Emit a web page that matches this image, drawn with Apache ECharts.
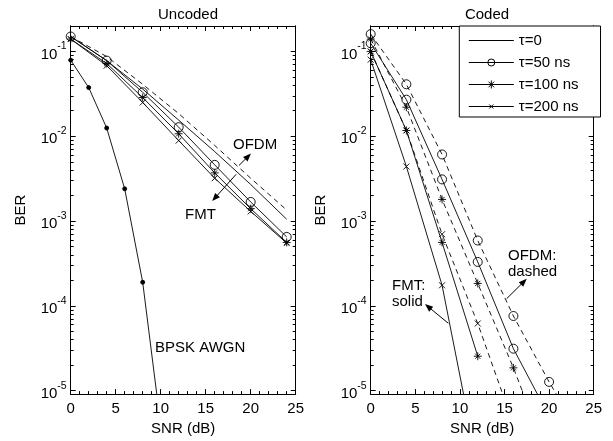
<!DOCTYPE html>
<html><head><meta charset="utf-8">
<script src="https://cdn.jsdelivr.net/npm/echarts@6/dist/echarts.min.js"></script>
<style>html,body{margin:0;padding:0;background:#fff}#c{width:613px;height:441px}</style>
</head><body><div id="c"></div>
<script>
// ---- data ----
const snrU = [0, 4, 8, 12, 16, 20, 24];
const bpskSnr = [0, 2, 4, 6, 8, 10];
const bpskBer = [0.079, 0.0375, 0.0125, 0.0024, 1.9e-4, 3.9e-6];
const uncFmtT0   = [0.15, 0.078, 0.036, 0.0155, 0.0066, 0.0027, 0.00105];
const uncFmtT50  = [0.15, 0.078, 0.033, 0.0128, 0.0046, 0.00168, 0.00065];
const uncFmtT100 = [0.14, 0.072, 0.0286, 0.0107, 0.0037, 0.0014, 0.00056];
const uncFmtT200 = [0.14, 0.068, 0.025, 0.0089, 0.0032, 0.0013, 0.00055];
const uncOfdm    = [0.15, 0.087, 0.041, 0.0185, 0.0078, 0.0032, 0.00135];

const snrC = [0, 4, 8, 12, 16, 20, 24];
const codFmtT50   = [0.125, 0.027, 0.0031, 3.3e-4, 3.13e-5, 5e-6];
const codOfdmT50  = [0.16, 0.041, 0.0061, 5.9e-4, 7.6e-5, 1.27e-5, 2.5e-6];
const codFmtT100  = [0.1, 0.0117, 5.6e-4, 2.55e-5];
const codOfdmT100 = [0.14, 0.022, 0.0018, 1.84e-4, 1.86e-5, 1.5e-6];
const codFmtT200  = [0.08, 0.0044, 1.75e-4, 1.3e-6];
const codOfdmT200 = [0.1, 0.0117, 7e-4, 6.2e-5, 4e-6];

const xTicks = [0, 5, 10, 15, 20, 25];
const yExp = [-5, -4, -3, -2, -1];
const legendNames = ['\u03c4=0', '\u03c4=50 ns', '\u03c4=100 ns', '\u03c4=200 ns'];

// annotation arrows in data coordinates: [grid, fromX, fromLogBer, toX, toLogBer]
const arrowDefs = [
  [0, 18.7, -2.344, 20.03, -2.204],
  [0, 18.38, -2.449, 15.72, -2.764],
  [1, 15.25, -3.914, 17.49, -3.681],
  [1, 8.70, -4.205, 6.09, -3.979]
];

// ---- helpers ----
const FONT = '"Liberation Sans", Arial, sans-serif';
const FS = 15;
const YMIN = -5.04, YMAX = -0.70;
const lg = v => Math.log10(v);
const pts = (xs, ys) => ys.map((y, i) => [xs[i], lg(y)]);
const minorVals = [];
for (let m = -6; m <= 0; m++) for (let k = 2; k <= 9; k++) {
  const v = Math.log10(k) + m; if (v > YMIN && v < YMAX) minorVals.push(v);
}
const STAR = 'path://M5,0L5,10M0,5L10,5M1.8,1.8L8.2,8.2M1.8,8.2L8.2,1.8';
const XMK = 'path://M0,0L10,10M0,10L10,0';

function xAxes(g) {
  const base = {gridIndex: g, type: 'value', min: 0, max: 25, interval: 5,
    axisLine: {show: true, onZero: false, lineStyle: {color: '#000', width: 1}},
    axisTick: {show: true, inside: true, length: 5, lineStyle: {color: '#000', width: 1}},
    minorTick: {show: true, splitNumber: 5, length: 3, lineStyle: {color: '#000', width: 1}},
    splitLine: {show: false}, minorSplitLine: {show: false}};
  return [
    Object.assign({}, base, {position: 'bottom', name: 'SNR (dB)', nameLocation: 'middle', nameGap: 23,
      nameTextStyle: {color: '#000', fontSize: FS, fontFamily: FONT},
      axisLabel: {color: '#000', fontSize: FS, fontFamily: FONT, margin: 7, customValues: xTicks}}),
    Object.assign({}, base, {position: 'top', axisLabel: {show: false}})
  ];
}
function yAxes(g) {
  const base = {gridIndex: g, type: 'value', min: YMIN, max: YMAX,
    axisLine: {show: true, onZero: false, lineStyle: {color: '#000', width: 1}},
    splitLine: {show: false}};
  const lab = {color: '#000', fontSize: FS, fontFamily: FONT, margin: 4, customValues: yExp,
    formatter: v => '{b|10}{s|' + Math.round(v) + '}',
    rich: {b: {fontSize: FS, fontFamily: FONT, color: '#000', verticalAlign: 'bottom'},
           s: {fontSize: 10.5, fontFamily: FONT, color: '#000', verticalAlign: 'top', padding: [0, 0, 10, 0]}}};
  return [
    Object.assign({}, base, {position: 'left', axisLabel: lab,
      axisTick: {show: true, inside: true, length: 5, customValues: yExp, lineStyle: {color: '#000'}},
      name: 'BER', nameLocation: 'middle', nameGap: 42, nameRotate: 90,
      nameTextStyle: {color: '#000', fontSize: FS, fontFamily: FONT}}),
    Object.assign({}, base, {position: 'left', axisLabel: {show: false},
      axisTick: {show: true, inside: true, length: 3, customValues: minorVals, lineStyle: {color: '#000'}}}),
    Object.assign({}, base, {position: 'right', axisLabel: {show: false},
      axisTick: {show: true, inside: true, length: 5, customValues: yExp, lineStyle: {color: '#000'}}}),
    Object.assign({}, base, {position: 'right', axisLabel: {show: false},
      axisTick: {show: true, inside: true, length: 3, customValues: minorVals, lineStyle: {color: '#000'}}})
  ];
}
function line(name, g, xs, ys, opts) {
  const o = Object.assign({dashed: false, symbol: 'none', size: 8}, opts || {});
  return {name: name, type: 'line', xAxisIndex: g * 2, yAxisIndex: g * 4,
    data: pts(xs, ys), clip: true, animation: false, z: 3,
    symbol: o.symbol, symbolSize: o.size, showSymbol: o.symbol !== 'none',
    lineStyle: {color: '#000', width: 0.9, type: o.dashed ? [5, 4] : 'solid'},
    itemStyle: {color: o.fill || 'rgba(0,0,0,0)', borderColor: '#000', borderWidth: 0.9},
    emphasis: {disabled: true}};
}

const series = [
  line('BPSK AWGN', 0, bpskSnr, bpskBer, {symbol: 'circle', size: 4, fill: '#000'}),
  line('u-ofdm', 0, snrU, uncOfdm, {dashed: true}),
  line(legendNames[0], 0, snrU, uncFmtT0),
  line('u50', 0, snrU, uncFmtT50, {symbol: 'circle', size: 9}),
  line('u100', 0, snrU, uncFmtT100, {symbol: STAR, size: 8}),
  line('u200', 0, snrU, uncFmtT200, {symbol: XMK, size: 6}),
  line('c-ofdm50', 1, snrC, codOfdmT50, {dashed: true, symbol: 'circle', size: 9}),
  line('c-ofdm100', 1, snrC, codOfdmT100, {dashed: true, symbol: STAR, size: 8}),
  line('c-ofdm200', 1, snrC, codOfdmT200, {dashed: true, symbol: XMK, size: 6}),
  line(legendNames[1], 1, snrC, codFmtT50, {symbol: 'circle', size: 9}),
  line(legendNames[2], 1, snrC, codFmtT100, {symbol: STAR, size: 8}),
  line(legendNames[3], 1, snrC, codFmtT200, {symbol: XMK, size: 6})
];

// legend icons: line + marker in a 45x10 box
const B = 'M0,0M45,10M0,5L45,5';
const legendIcons = [
  'path://' + B,
  'path://' + B + 'M26,5A3.5,3.5 0 1 1 19,5A3.5,3.5 0 1 1 26,5',
  'path://' + B + 'M22.5,1L22.5,9M18.5,5L26.5,5M19.7,2.2L25.3,7.8M19.7,7.8L25.3,2.2',
  'path://' + B + 'M20.5,3L24.5,7M20.5,7L24.5,3'
];
const legendData = legendNames.map((n, i) => ({name: n, icon: legendIcons[i],
  itemStyle: {color: 'rgba(0,0,0,0)', borderColor: '#000', borderWidth: 1}}));

const txt = (x, y, s) => ({type: 'text', x: x, y: y, silent: true, z: 10,
  style: {text: s, fill: '#000', font: FS + 'px ' + FONT, textVerticalAlign: 'middle'}});

const chart = echarts.init(document.getElementById('c'), null, {renderer: 'canvas'});
chart.setOption({
  backgroundColor: '#fff',
  animation: false,
  title: [
    {text: 'Uncoded', left: 183, top: 2, textAlign: 'center', textStyle: {fontSize: FS, fontWeight: 'normal', color: '#000', fontFamily: FONT}},
    {text: 'Coded', left: 482, top: 2, textAlign: 'center', textStyle: {fontSize: FS, fontWeight: 'normal', color: '#000', fontFamily: FONT}}
  ],
  grid: [
    {left: 70.7, right: 317.3, top: 26, bottom: 43, containLabel: false},
    {left: 370.7, right: 19.3, top: 26, bottom: 43, containLabel: false}
  ],
  xAxis: xAxes(0).concat(xAxes(1)),
  yAxis: yAxes(0).concat(yAxes(1)),
  legend: {data: legendData, orient: 'vertical', left: 459.3, top: 26, itemWidth: 45, itemHeight: 10,
    itemGap: 7, padding: [7, 22, 3, 9], backgroundColor: '#fff', borderColor: '#000', borderWidth: 1,
    selectedMode: false, textStyle: {color: '#000', fontSize: FS, fontFamily: FONT}},
  series: series
});

// annotations (text + arrows placed via the axes' own scales)
const gfx = [
  txt(233, 145, 'OFDM'), txt(185, 215, 'FMT'), txt(155, 347.5, 'BPSK AWGN'),
  txt(508, 256, 'OFDM:'), txt(508, 272, 'dashed'), txt(392, 286, 'FMT:'), txt(392, 302, 'solid')
];
arrowDefs.forEach(a => {
  const p0 = chart.convertToPixel({gridIndex: a[0]}, [a[1], a[2]]);
  const p1 = chart.convertToPixel({gridIndex: a[0]}, [a[3], a[4]]);
  const dx = p1[0] - p0[0], dy = p1[1] - p0[1], len = Math.hypot(dx, dy);
  const ux = dx / len, uy = dy / len, nx = -uy, ny = ux, hl = 8, hw = 3.2;
  const bx = p1[0] - ux * hl, by = p1[1] - uy * hl;
  gfx.push({type: 'line', silent: true, z: 10,
    shape: {x1: p0[0], y1: p0[1], x2: p1[0] - ux * 5, y2: p1[1] - uy * 5},
    style: {stroke: '#000', lineWidth: 1}});
  gfx.push({type: 'polygon', silent: true, z: 10,
    shape: {points: [[p1[0], p1[1]], [bx + nx * hw, by + ny * hw], [bx - nx * hw, by - ny * hw]]},
    style: {fill: '#000'}});
});
chart.setOption({graphic: gfx});
</script></body></html>
